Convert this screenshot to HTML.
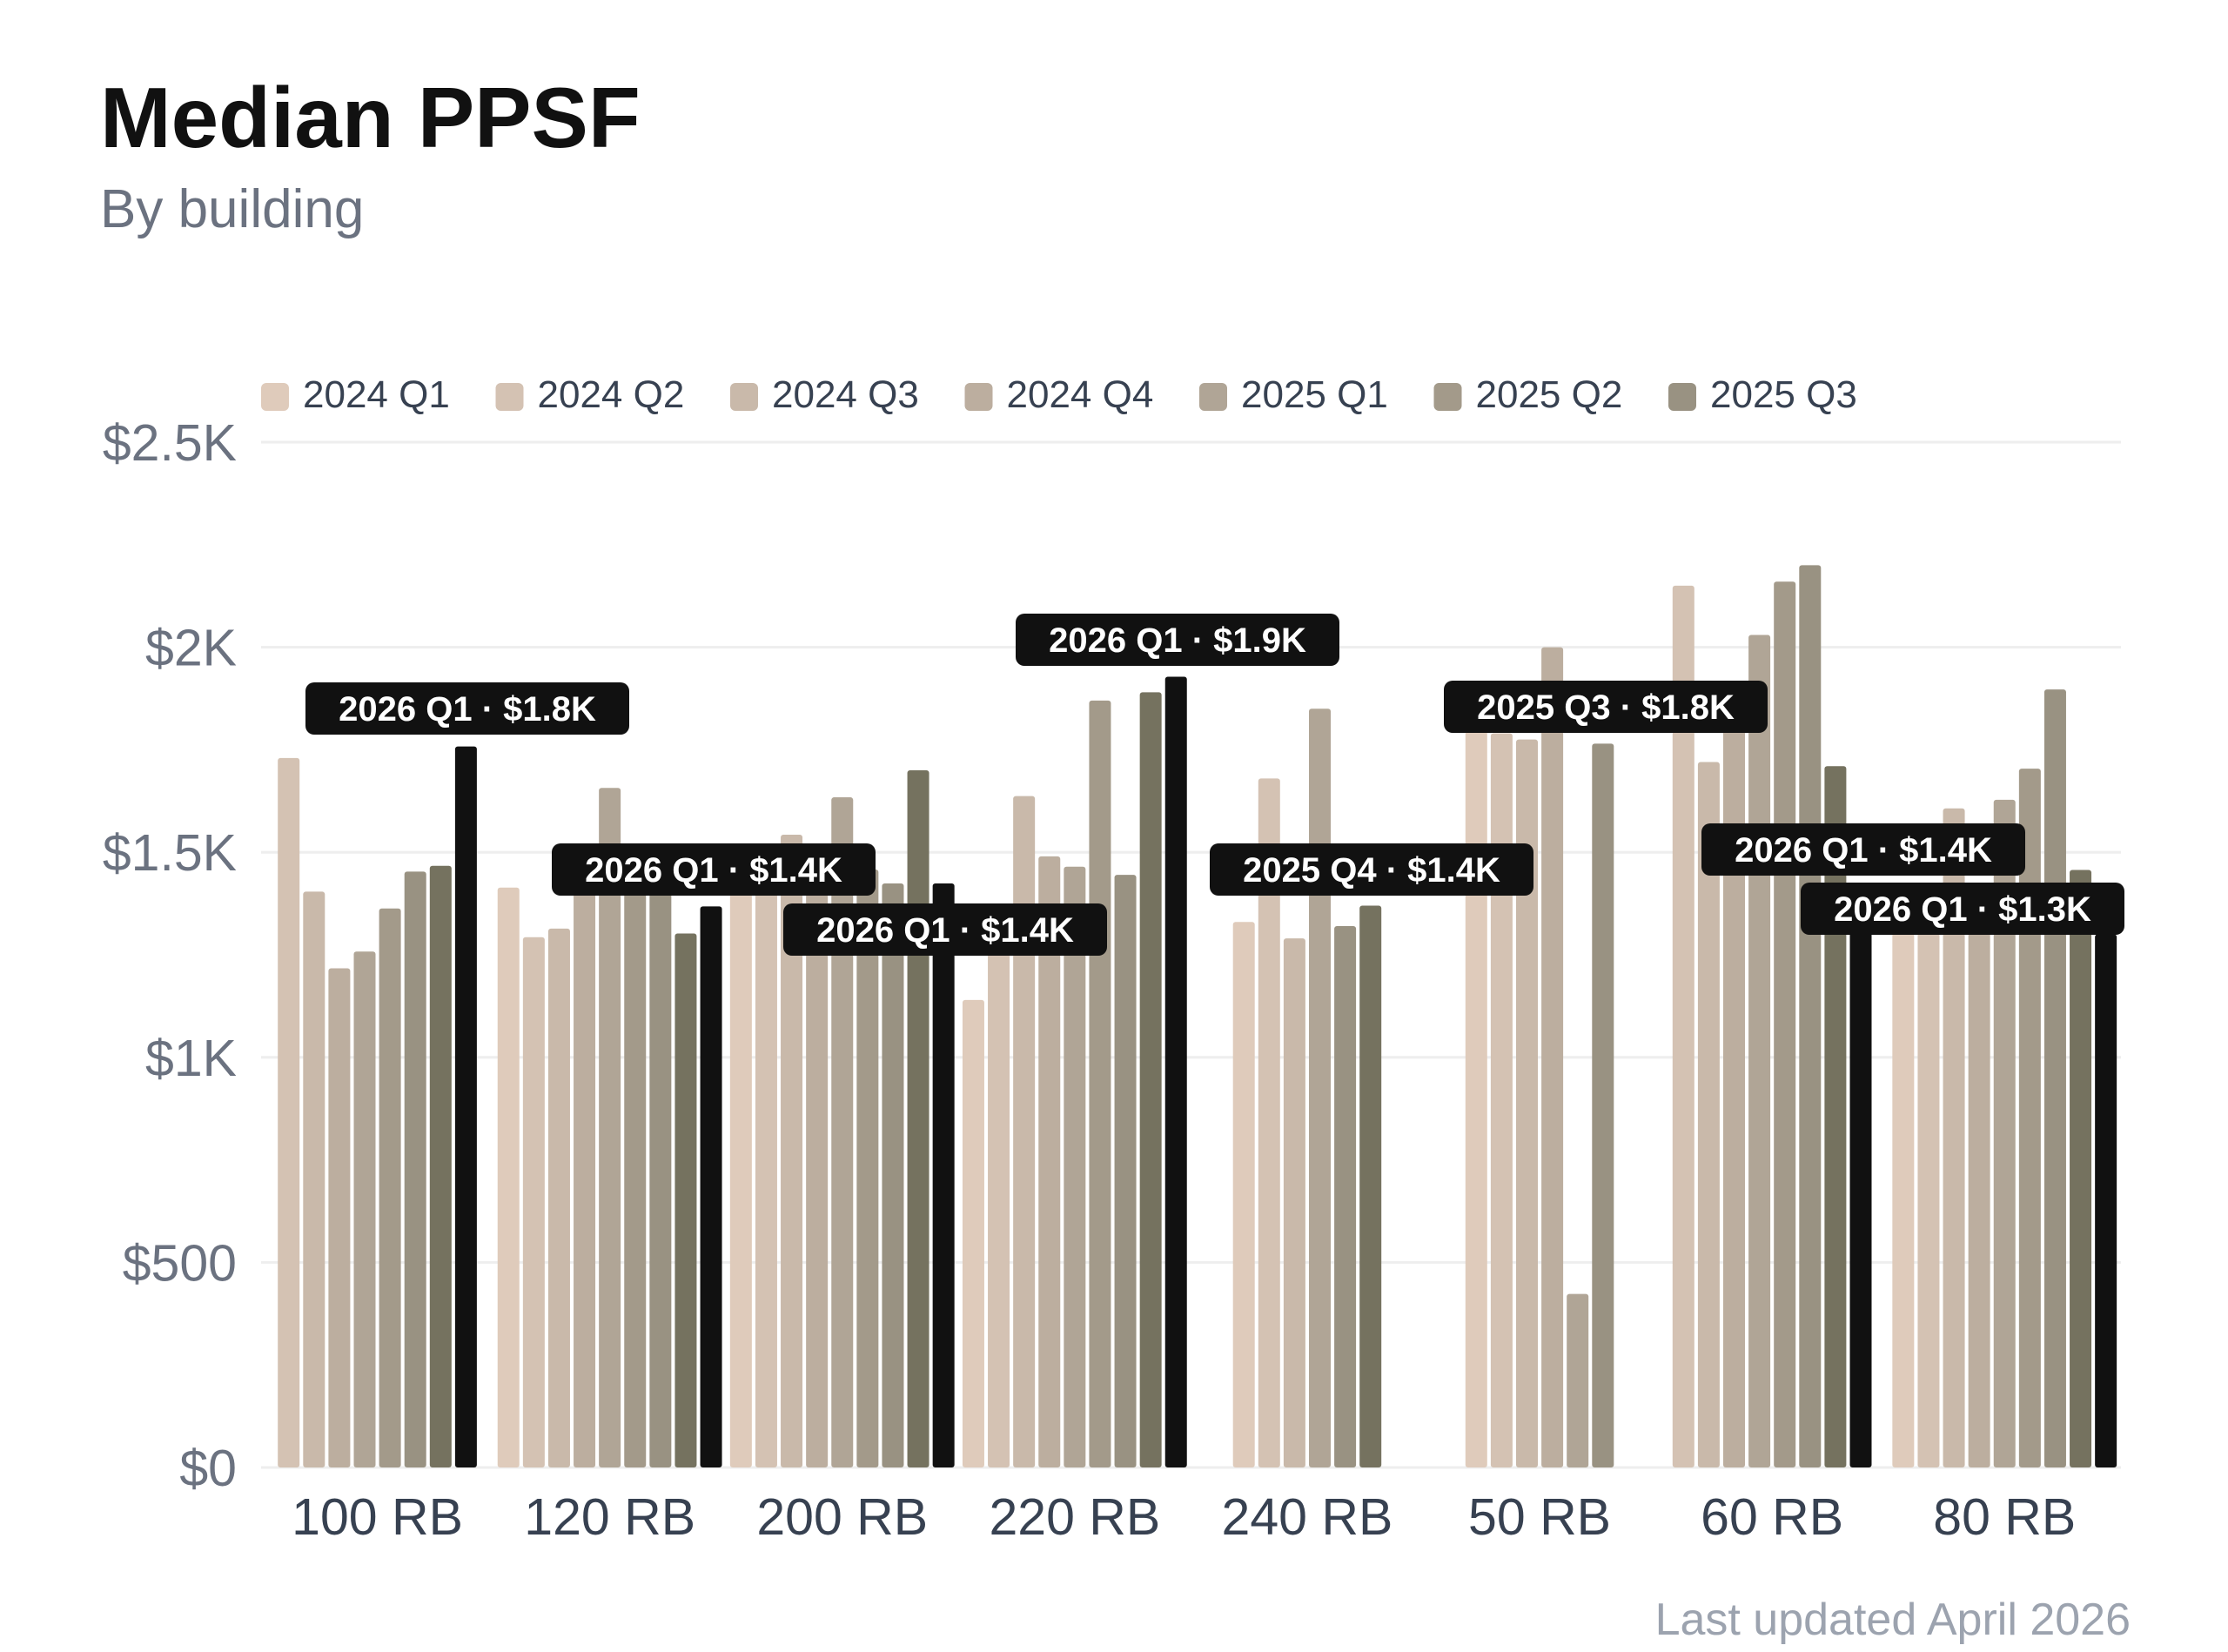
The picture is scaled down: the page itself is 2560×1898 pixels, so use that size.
<!DOCTYPE html>
<html><head><meta charset="utf-8">
<style>
html,body{margin:0;padding:0;background:#fff;}
svg{display:block;}
text{font-family:"Liberation Sans",Arial,sans-serif;}
</style></head>
<body>
<svg id="c" width="2560" height="1898" viewBox="0 0 2560 1898" xmlns="http://www.w3.org/2000/svg">
<rect width="2560" height="1898" fill="#fff"/>
<text x="115" y="169" font-size="98" font-weight="700" fill="#111">Median PPSF</text>
<text x="115" y="261" font-size="62" fill="#6b7280">By building</text>
<g id="grid"></g>
<g id="legend"></g>
<g id="bars"></g>
<g id="xl"></g>
<g id="labels"></g>
<text x="2448" y="1878" font-size="52" fill="#9ca3af" text-anchor="end">Last updated April 2026</text>
</svg>
<script>
var NS="http://www.w3.org/2000/svg";
function el(p,t,a,txt){var e=document.createElementNS(NS,t);for(var k in a)e.setAttribute(k,a[k]);if(txt!=null)e.textContent=txt;document.getElementById(p).appendChild(e);return e;}
var Y0=1686,S=(1686-508)/2500;
var cols=["#dfcbbb","#d4c2b3","#c9b9aa","#bcae9f","#b0a596","#a39a8a","#999282","#75725f","#111111"];
var ticks=[0,500,1000,1500,2000,2500],tl=["$0","$500","$1K","$1.5K","$2K","$2.5K"];
for(var i=0;i<ticks.length;i++){var y=Y0-ticks[i]*S;
el("grid","line",{x1:300,x2:2437,y1:y,y2:y,stroke:"#eeeeee","stroke-width":3});
el("grid","text",{x:272,y:y+21,"font-size":59,fill:"#6b7280","text-anchor":"end"},tl[i]);}
var ln=["2024 Q1","2024 Q2","2024 Q3","2024 Q4","2025 Q1","2025 Q2","2025 Q3"];
for(var i=0;i<7;i++){var x=300+i*269.5;
el("legend","rect",{x:x,y:440,width:32,height:32,rx:6,fill:cols[i]});
el("legend","text",{x:x+48,y:468,"font-size":44,fill:"#374151"},ln[i]);}
var groups=[
 ["100 RB",[[1,1730],[2,1404],[3,1217],[4,1258],[5,1363],[6,1453],[7,1467],[8,1758]]],
 ["120 RB",[[0,1414],[1,1293],[2,1314],[3,1480],[4,1657],[5,1517],[6,1480],[7,1302],[8,1368]]],
 ["200 RB",[[0,1450],[1,1470],[2,1543],[3,1500],[4,1634],[5,1458],[6,1424],[7,1700],[8,1424]]],
 ["220 RB",[[0,1140],[1,1270],[2,1637],[3,1490],[4,1465],[5,1870],[6,1445],[7,1890],[8,1928]]],
 ["240 RB",[[0,1330],[1,1680],[2,1290],[4,1850],[6,1320],[7,1370]]],
 ["50 RB",[[0,1800],[1,1790],[2,1775],[3,2000],[4,423],[6,1765]]],
 ["60 RB",[[1,2150],[2,1720],[3,1850],[4,2030],[5,2160],[6,2200],[7,1710],[8,1400]]],
 ["80 RB",[[0,1380],[1,1380],[2,1607],[3,1400],[4,1628],[5,1704],[6,1897],[7,1457],[8,1300]]]
];
var band=267.1,step=29.1,bw=25;
for(var g=0;g<groups.length;g++){
 var c=300+band*(g+0.5),b=groups[g][1],n=b.length,x0=c-n*step/2+2.05;
 for(var j=0;j<n;j++){var v=b[j][1],h=v*S;
  el("bars","rect",{x:x0+j*step,y:Y0-h,width:bw,height:h,rx:3,fill:cols[b[j][0]]});}
 el("xl","text",{x:c,y:1763,"font-size":59,fill:"#374151","text-anchor":"middle"},groups[g][0]);
}
var L=[
 [351,784,"2026 Q1 · $1.8K"],
 [634,969,"2026 Q1 · $1.4K"],
 [900,1038,"2026 Q1 · $1.4K"],
 [1167,705,"2026 Q1 · $1.9K"],
 [1390,969,"2025 Q4 · $1.4K"],
 [1659,782,"2025 Q3 · $1.8K"],
 [1955,946,"2026 Q1 · $1.4K"],
 [2069,1014,"2026 Q1 · $1.3K"]
];
for(var i=0;i<L.length;i++){
 el("labels","rect",{x:L[i][0],y:L[i][1],width:372,height:60,rx:10,fill:"#111111"});
 el("labels","text",{x:L[i][0]+186,y:L[i][1]+44,"font-size":40,"font-weight":700,fill:"#fff","text-anchor":"middle"},L[i][2]);
}
</script>
</body></html>
